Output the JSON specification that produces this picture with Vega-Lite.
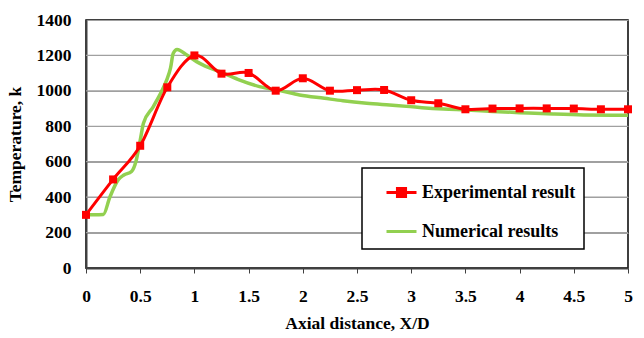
{
  "$schema": "https://vega.github.io/schema/vega-lite/v6.json",
  "width": 542,
  "height": 248,
  "autosize": "none",
  "padding": {"left": 86, "top": 20, "right": 16, "bottom": 70},
  "background": "white",
  "config": {
    "view": {"stroke": "#000000", "strokeWidth": 1.5},
    "font": "Liberation Serif"
  },
  "datasets": {
    "grid": [
      {"y": 200}, {"y": 400}, {"y": 600}, {"y": 800}, {"y": 1000}, {"y": 1200}
    ],
    "exp": [
      {"x": 0, "y": 300, "series": "Experimental result"},
      {"x": 0.25, "y": 500, "series": "Experimental result"},
      {"x": 0.5, "y": 690, "series": "Experimental result"},
      {"x": 0.75, "y": 1020, "series": "Experimental result"},
      {"x": 1, "y": 1200, "series": "Experimental result"},
      {"x": 1.25, "y": 1097, "series": "Experimental result"},
      {"x": 1.5, "y": 1101, "series": "Experimental result"},
      {"x": 1.75, "y": 1001, "series": "Experimental result"},
      {"x": 2, "y": 1071, "series": "Experimental result"},
      {"x": 2.25, "y": 1001, "series": "Experimental result"},
      {"x": 2.5, "y": 1004, "series": "Experimental result"},
      {"x": 2.75, "y": 1005, "series": "Experimental result"},
      {"x": 3, "y": 947, "series": "Experimental result"},
      {"x": 3.25, "y": 930, "series": "Experimental result"},
      {"x": 3.5, "y": 896, "series": "Experimental result"},
      {"x": 3.75, "y": 900, "series": "Experimental result"},
      {"x": 4, "y": 901, "series": "Experimental result"},
      {"x": 4.25, "y": 901, "series": "Experimental result"},
      {"x": 4.5, "y": 900, "series": "Experimental result"},
      {"x": 4.75, "y": 896, "series": "Experimental result"},
      {"x": 5, "y": 896, "series": "Experimental result"}
    ],
    "num": [
      {"x": 0, "y": 300, "series": "Numerical results"},
      {"x": 0.08, "y": 300, "series": "Numerical results"},
      {"x": 0.16, "y": 302, "series": "Numerical results"},
      {"x": 0.22, "y": 400, "series": "Numerical results"},
      {"x": 0.3, "y": 500, "series": "Numerical results"},
      {"x": 0.35, "y": 525, "series": "Numerical results"},
      {"x": 0.42, "y": 545, "series": "Numerical results"},
      {"x": 0.46, "y": 600, "series": "Numerical results"},
      {"x": 0.5, "y": 720, "series": "Numerical results"},
      {"x": 0.53, "y": 817, "series": "Numerical results"},
      {"x": 0.62, "y": 910, "series": "Numerical results"},
      {"x": 0.7, "y": 1000, "series": "Numerical results"},
      {"x": 0.744, "y": 1061, "series": "Numerical results"},
      {"x": 0.78, "y": 1130, "series": "Numerical results"},
      {"x": 0.805, "y": 1212, "series": "Numerical results"},
      {"x": 0.84, "y": 1234, "series": "Numerical results"},
      {"x": 0.93, "y": 1202, "series": "Numerical results"},
      {"x": 1.02, "y": 1165, "series": "Numerical results"},
      {"x": 1.1, "y": 1140, "series": "Numerical results"},
      {"x": 1.236, "y": 1108, "series": "Numerical results"},
      {"x": 1.4, "y": 1065, "series": "Numerical results"},
      {"x": 1.6, "y": 1024, "series": "Numerical results"},
      {"x": 1.8, "y": 1000, "series": "Numerical results"},
      {"x": 1.97, "y": 977, "series": "Numerical results"},
      {"x": 2.2, "y": 958, "series": "Numerical results"},
      {"x": 2.37, "y": 944, "series": "Numerical results"},
      {"x": 2.59, "y": 930, "series": "Numerical results"},
      {"x": 2.8, "y": 920, "series": "Numerical results"},
      {"x": 2.99, "y": 911, "series": "Numerical results"},
      {"x": 3.1, "y": 905, "series": "Numerical results"},
      {"x": 3.3, "y": 897, "series": "Numerical results"},
      {"x": 3.51, "y": 892, "series": "Numerical results"},
      {"x": 3.75, "y": 884, "series": "Numerical results"},
      {"x": 4, "y": 877, "series": "Numerical results"},
      {"x": 4.31, "y": 869, "series": "Numerical results"},
      {"x": 4.59, "y": 864, "series": "Numerical results"},
      {"x": 5, "y": 862, "series": "Numerical results"}
    ]
  },
  "encoding": {
    "y": {
      "field": "y", "type": "quantitative",
      "scale": {"domain": [0, 1400], "nice": false},
      "axis": {
        "values": [0, 200, 400, 600, 800, 1000, 1200, 1400],
        "format": "d",
        "grid": true,
        "gridColor": "#a0a0a0",
        "gridWidth": 1.2,
        "labelOverlap": false,
        "labelFlush": false,
        "title": "Temperature, k",
        "titleFont": "Liberation Serif", "titleFontSize": 17.5, "titleFontWeight": "bold", "titleColor": "#000000",
        "titlePadding": 12,
        "labelFont": "Liberation Serif", "labelFontSize": 17.5, "labelFontWeight": "bold", "labelColor": "#000000",
        "labelPadding": 14,
        "tickColor": "#404040",
        "tickSize": 1,
        "domainColor": "#404040", "domainWidth": 2
      }
    }
  },
  "layer": [
    {
      "data": {"name": "grid"},
      "mark": {"type": "rule", "color": "#a0a0a0", "strokeWidth": 1.2, "opacity": 1},
      "encoding": {}
    },
    {
      "data": {"name": "num"},
      "mark": {"type": "line", "interpolate": "monotone", "strokeWidth": 3.5},
      "encoding": {
        "x": {
          "field": "x", "type": "quantitative",
          "scale": {"domain": [0, 5], "nice": false},
          "axis": {
            "values": [0, 0.5, 1, 1.5, 2, 2.5, 3, 3.5, 4, 4.5, 5],
            "format": "~g",
            "grid": false,
            "labelFlush": false,
            "labelOverlap": false,
            "title": "Axial distance, X/D",
            "titleFont": "Liberation Serif", "titleFontSize": 17.5, "titleFontWeight": "bold", "titleColor": "#000000",
            "titlePadding": 10,
            "labelFont": "Liberation Serif", "labelFontSize": 17.5, "labelFontWeight": "bold", "labelColor": "#000000",
            "labelPadding": 14,
            "domainColor": "#404040", "domainWidth": 2,
            "tickColor": "#404040", "tickWidth": 1, "tickSize": 5
          }
        },
        "color": {
          "field": "series", "type": "nominal",
          "scale": {"domain": ["Experimental result", "Numerical results"], "range": ["#ff0000", "#92d050"]},
          "legend": {
            "title": null,
            "orient": "none",
            "legendX": 276,
            "legendY": 148,
            "padding": 8,
            "fillColor": "#ffffff",
            "strokeColor": "#000000",
            "symbolSize": 900,
            "symbolStrokeWidth": 3,
            "symbolOffset": 15,
            "symbolFillColor": "#ff0000",
            "rowPadding": 12,
            "labelOffset": 4,
            "labelFont": "Liberation Serif", "labelFontSize": 18, "labelFontWeight": "bold", "labelColor": "#000000",
            "labelLimit": 300,
            "encode": {
              "legend": {"update": {"strokeWidth": {"value": 1.5}}},
              "symbols": {
                "update": {
                  "shape": {"signal": "datum.value === 'Experimental result' ? 'M-1,0H1M-0.27,-0.27H0.27V0.27H-0.27Z' : 'M-1,0H1'"},
                  "fill": {"signal": "datum.value === 'Experimental result' ? '#ff0000' : 'transparent'"}
                }
              }
            }
          }
        }
      }
    },
    {
      "data": {"name": "exp"},
      "mark": {"type": "line", "interpolate": "cardinal", "strokeWidth": 3},
      "encoding": {
        "x": {
          "field": "x", "type": "quantitative",
          "scale": {"domain": [0, 5], "nice": false},
          "axis": {
            "values": [0, 0.5, 1, 1.5, 2, 2.5, 3, 3.5, 4, 4.5, 5],
            "format": "~g",
            "grid": false,
            "labelFlush": false,
            "labelOverlap": false,
            "title": "Axial distance, X/D",
            "titleFont": "Liberation Serif", "titleFontSize": 17.5, "titleFontWeight": "bold", "titleColor": "#000000",
            "titlePadding": 10,
            "labelFont": "Liberation Serif", "labelFontSize": 17.5, "labelFontWeight": "bold", "labelColor": "#000000",
            "labelPadding": 14,
            "domainColor": "#404040", "domainWidth": 2,
            "tickColor": "#404040", "tickWidth": 1, "tickSize": 5
          }
        },
        "color": {"field": "series", "type": "nominal"}
      }
    },
    {
      "data": {"name": "exp"},
      "mark": {"type": "point", "shape": "square", "filled": true, "size": 64, "opacity": 1},
      "encoding": {
        "x": {
          "field": "x", "type": "quantitative",
          "scale": {"domain": [0, 5], "nice": false},
          "axis": {
            "values": [0, 0.5, 1, 1.5, 2, 2.5, 3, 3.5, 4, 4.5, 5],
            "format": "~g",
            "grid": false,
            "labelFlush": false,
            "labelOverlap": false,
            "title": "Axial distance, X/D",
            "titleFont": "Liberation Serif", "titleFontSize": 17.5, "titleFontWeight": "bold", "titleColor": "#000000",
            "titlePadding": 10,
            "labelFont": "Liberation Serif", "labelFontSize": 17.5, "labelFontWeight": "bold", "labelColor": "#000000",
            "labelPadding": 14,
            "domainColor": "#404040", "domainWidth": 2,
            "tickColor": "#404040", "tickWidth": 1, "tickSize": 5
          }
        },
        "color": {"value": "#ff0000"}
      }
    }
  ]
}
